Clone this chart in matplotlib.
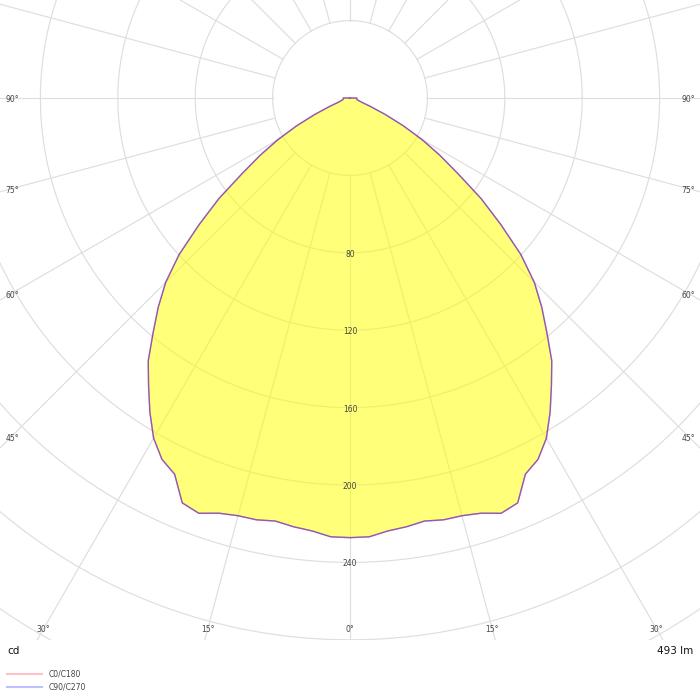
import numpy as np
import matplotlib
matplotlib.use("Agg")
import matplotlib.pyplot as plt
from matplotlib.lines import Line2D

# ---- data (cd) ----
gamma = [0, 2.5, 5, 7.5, 10, 12.5, 15, 17.5, 20, 22.5, 25, 27.5, 30, 32.5, 35,
         37.5, 40, 42.5, 45, 47.5, 50, 52.5, 55, 57.5, 60, 62.5, 65, 67.5, 70,
         72.5, 75, 77.5, 80, 82.5, 85, 87.5, 90, 92.5, 180]
c0_c180 = [227.2, 227.0, 224.6, 223.5, 222.0, 223.3, 223.5, 225.0, 228.4, 226.5,
           214.5, 210.5, 203.0, 192.5, 181.5, 171.3, 158.3, 146.7, 134.7, 119.8,
           101.8, 85.4, 68.0, 55.0, 43.0, 31.0, 20.0, 11.5, 6.5, 5.0, 4.2, 3.8,
           3.6, 3.5, 3.5, 3.5, 3.5, 0.0, 0.0]
c90_c270 = [227.2, 227.0, 224.6, 223.5, 222.0, 223.3, 223.5, 225.0, 228.4, 226.5,
            214.5, 210.5, 203.0, 192.5, 181.5, 171.3, 158.3, 146.7, 134.7, 119.8,
            101.8, 85.4, 68.0, 55.0, 43.0, 31.0, 20.0, 11.5, 6.5, 5.0, 4.2, 3.8,
            3.6, 3.5, 3.5, 3.5, 3.5, 0.0, 0.0]
ring_values = [40, 80, 120, 160, 200, 240, 280, 320, 360]
ring_labels = [80, 120, 160, 200, 240]
bottom_angle_labels = [0, 15, 30]
side_angle_labels = [45, 60, 75, 90]
series_names = ["C0/C180", "C90/C270"]
unit_label = "cd"
flux_label = "493 lm"

# ---- layout ----
W = H = 700
PLOT_H = 640          # plot area height in px
CX, CY = 350, 98      # centre of diagram in px
S = 1.935             # px per cd

fig = plt.figure(figsize=(7, 7), dpi=100)
ax = fig.add_axes([0, (H - PLOT_H) / H, 1, PLOT_H / H])
ax.set_xlim(-CX / S, (W - CX) / S)
ax.set_ylim(-(PLOT_H - CY) / S, CY / S)
ax.axis("off")

grid_col = "#dedede"
t = np.linspace(0, 2 * np.pi, 721)
for r in ring_values:
    ax.plot(r * np.cos(t), r * np.sin(t), color=grid_col, lw=0.85, zorder=1)
for a in range(0, 360, 15):
    th = np.deg2rad(a)
    ax.plot([40 * np.sin(th), 420 * np.sin(th)],
            [-40 * np.cos(th), -420 * np.cos(th)], color=grid_col, lw=0.85, zorder=1)

def xy(g, v, side):
    g = np.deg2rad(np.asarray(g, float))
    v = np.asarray(v, float)
    return side * v * np.sin(g), -v * np.cos(g)

def closed(g, v):
    xr, yr = xy(g, v, 1)
    xl, yl = xy(g, v, -1)
    x = np.concatenate([xl[::-1], xr])
    y = np.concatenate([yl[::-1], yr])
    return x, y

x0, y0 = closed(gamma, c0_c180)
x9, y9 = closed(gamma, c90_c270)
ax.fill(x0, y0, color="#ffff00", alpha=0.52, lw=0, zorder=2)
ax.plot(x0, y0, color="#ff0000", alpha=0.45, lw=1.0, zorder=3,
        solid_joinstyle="round")
ax.plot(x9, y9, color="#3030ff", alpha=0.55, lw=1.0, zorder=3,
        solid_joinstyle="round")

txt_col = "#444444"
for r in ring_labels:
    ax.text(0, -r - 1.5 / S, str(r), fontsize=5.5, color=txt_col,
            ha="center", va="center", zorder=4)

y_bot = -(629 - CY) / S
for a in bottom_angle_labels:
    xa = abs(y_bot) * np.tan(np.deg2rad(a))
    for sgn in ([1] if a == 0 else [-1, 1]):
        ax.text(sgn * xa, y_bot, f"{a}°", fontsize=5.5, color=txt_col,
                ha="center", va="center", zorder=4)

x_side = (CX - 12) / S
for a in side_angle_labels:
    ya = -x_side / np.tan(np.deg2rad(a)) - 2 / S
    for sgn in [-1, 1]:
        ax.text(sgn * x_side, ya, f"{a}°", fontsize=5.5, color=txt_col,
                ha="center", va="center", zorder=4)

# ---- footer ----
fig.text(7 / W, 1 - 651 / H, unit_label, fontsize=7.5, color="#111111", ha="left", va="center")
fig.text(693 / W, 1 - 651 / H, flux_label, fontsize=7.5, color="#111111", ha="right", va="center")
leg_cols = ["#ffc0c8", "#c0c0ff"]
for i, (name, col) in enumerate(zip(series_names, leg_cols)):
    yy = 1 - (674 + 13 * i) / H
    fig.add_artist(Line2D([7 / W, 42 / W], [yy, yy], color=col, lw=1.5,
                          transform=fig.transFigure))
    fig.text(49 / W, yy, name, fontsize=5.5, color=txt_col, ha="left", va="center")

fig.savefig("out.png", dpi=100)
